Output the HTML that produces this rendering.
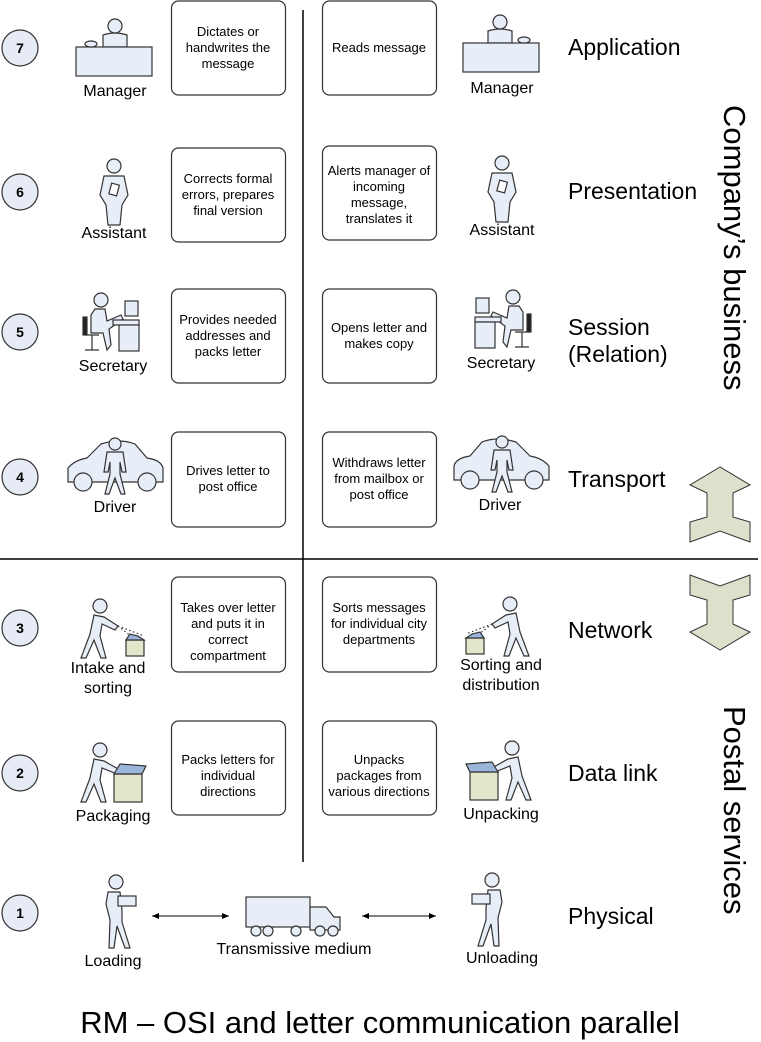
<!DOCTYPE html>
<html><head><meta charset="utf-8"><style>
html,body{margin:0;padding:0;background:#fff}
svg{display:block}
text{font-family:"Liberation Sans",Arial,sans-serif;fill:#000}
</style></head><body>
<svg width="761" height="1042" viewBox="0 0 761 1042" xmlns="http://www.w3.org/2000/svg">
<defs>
<marker id="ah" markerWidth="8" markerHeight="8" refX="7" refY="4" orient="auto-start-reverse"><path d="M0,1 L7,4 L0,7 Z" fill="#000"/></marker>
<g id="manager" stroke="#333" stroke-width="1.2" fill="#e8eef8">
 <path d="M-11,0 V-12 Q1,-16 13,-12 V0 Z"/>
 <circle cx="1" cy="-21" r="7"/>
 <rect x="-38" y="0" width="76" height="29"/>
 <ellipse cx="-23" cy="-3" rx="6" ry="3"/>
</g>
<g id="assistant" stroke="#333" stroke-width="1.2" fill="#e8eef8">
 <circle cx="0" cy="-24" r="7"/>
 <path d="M-10,-14 L10,-14 L14,5 L8,15 L6,35 L-6,35 L-8,15 L-14,5 Z"/>
 <rect x="-4" y="-6" width="8" height="11" transform="rotate(15)" fill="#fff"/>
</g>
<g id="secretary" stroke="#333" stroke-width="1.2" fill="#e8eef8">
 <circle cx="-12" cy="-25" r="7"/>
 <path d="M-18,-16 L-8,-16 L-6,-4 L8,-10 L10,-6 L-4,4 L-2,20 L-6,25 L-10,8 L-22,8 L-22,-10 Z"/>
 <rect x="-30" y="-8" width="4" height="18" fill="#222"/>
 <path d="M-28,10 H-14 M-21,10 V25 M-28,25 H-14" fill="none"/>
 <rect x="0" y="-5" width="26" height="5"/>
 <rect x="6" y="0" width="20" height="26"/>
 <rect x="12" y="-24" width="13" height="15"/>
</g>
<g id="driver" stroke="#333" stroke-width="1.2" fill="#e8eef8">
 <path d="M-47,22 L-47,8 Q-40,0 -28,-2 L-14,-16 Q5,-22 20,-16 L32,-2 Q46,0 48,8 L48,22 Z"/>
 <circle cx="-32" cy="22" r="9"/>
 <circle cx="32" cy="22" r="9"/>
 <circle cx="0" cy="-16" r="6"/>
 <path d="M-8,-8 L8,-8 L11,12 L7,12 L5,2 L5,14 L10,34 L6,34 L0,18 L-6,34 L-10,34 L-5,14 L-5,2 L-7,12 L-11,12 Z"/>
</g>
<g id="intake" stroke="#333" stroke-width="1.2" fill="#e8eef8">
 <circle cx="0" cy="-22" r="7"/>
 <path d="M-6,-13 L4,-11 L18,-2 L15,2 L2,-4 L0,8 L6,30 L1,30 L-6,12 L-14,30 L-19,30 L-10,6 Z"/>
 <path d="M18,-2 L36,12 M18,-2 L44,8" stroke-dasharray="1.5,2.5" fill="none"/>
 <rect x="26" y="12" width="18" height="16" fill="#e4e6cc"/>
 <path d="M26,12 L30,6 L38,8 L44,12 Z" fill="#9bb4d9"/>
</g>
<g id="packaging" stroke="#333" stroke-width="1.2" fill="#e8eef8">
 <circle cx="0" cy="-20" r="7"/>
 <path d="M-6,-11 L4,-9 L20,0 L17,4 L2,-2 L0,10 L6,32 L1,32 L-6,14 L-14,32 L-19,32 L-10,8 Z"/>
 <rect x="14" y="4" width="28" height="28" fill="#e4e6cc"/>
 <path d="M14,4 L20,-6 L46,-4 L42,4 Z" fill="#9bb4d9"/>
</g>
<g id="loading" stroke="#333" stroke-width="1.2" fill="#e8eef8">
 <circle cx="8" cy="-28" r="7"/>
 <path d="M0,-18 L12,-18 L14,0 L14,12 L22,38 L17,38 L9,16 L6,38 L1,38 L2,10 L-2,-6 Z"/>
 <rect x="10" y="-14" width="18" height="10" fill="#e8eef8"/>
</g>
<g id="bigarrow" stroke="#333" stroke-width="1" fill="#dde0cb">
 <path d="M0,0 L-30,18 L-13,26 L-13,50 L-30,55 L-30,75 L0,64 L30,75 L30,55 L13,50 L13,26 L30,18 Z"/>
</g>
</defs>

<line x1="303" y1="10" x2="303" y2="862" stroke="#000" stroke-width="1.5"/>
<line x1="0" y1="559" x2="758" y2="559" stroke="#000" stroke-width="1.5"/>

<g stroke="#333" stroke-width="1.2" fill="#e6ebf5">
<circle cx="20" cy="48" r="18"/><circle cx="20" cy="192" r="18"/><circle cx="20" cy="332" r="18"/><circle cx="20" cy="477" r="18"/><circle cx="20" cy="628" r="18"/><circle cx="20" cy="773" r="18"/><circle cx="20" cy="913" r="18"/>
</g>
<g font-size="14" font-weight="bold" text-anchor="middle">
<text x="20" y="53">7</text><text x="20" y="197">6</text><text x="20" y="337">5</text><text x="20" y="482">4</text><text x="20" y="633">3</text><text x="20" y="778">2</text><text x="20" y="918">1</text>
</g>

<g stroke="#333" stroke-width="1.2" fill="#fff">
<rect x="171.5" y="1" width="114" height="94" rx="7"/>
<rect x="171.5" y="148" width="114" height="94" rx="7"/>
<rect x="171.5" y="289" width="114" height="94" rx="7"/>
<rect x="171.5" y="432" width="114" height="95" rx="7"/>
<rect x="171.5" y="577" width="114" height="95" rx="7"/>
<rect x="171.5" y="721" width="114" height="94" rx="7"/>
<rect x="322.5" y="1" width="114" height="94" rx="7"/>
<rect x="322.5" y="146" width="114" height="94" rx="7"/>
<rect x="322.5" y="289" width="114" height="94" rx="7"/>
<rect x="322.5" y="432" width="114" height="95" rx="7"/>
<rect x="322.5" y="577" width="114" height="95" rx="7"/>
<rect x="322.5" y="721" width="114" height="94" rx="7"/>
</g>
<g font-size="13" text-anchor="middle" fill="#000">
<text x="228" y="36">Dictates or</text><text x="228" y="52">handwrites the</text><text x="228" y="68">message</text>
<text x="228" y="183">Corrects formal</text><text x="228" y="199">errors, prepares</text><text x="228" y="215">final version</text>
<text x="228" y="324">Provides needed</text><text x="228" y="340">addresses and</text><text x="228" y="356">packs letter</text>
<text x="228" y="475">Drives letter to</text><text x="228" y="491">post office</text>
<text x="228" y="612">Takes over letter</text><text x="228" y="628">and puts it in</text><text x="228" y="644">correct</text><text x="228" y="660">compartment</text>
<text x="228" y="764">Packs letters for</text><text x="228" y="780">individual</text><text x="228" y="796">directions</text>
<text x="379" y="52">Reads message</text>
<text x="379" y="175">Alerts manager of</text><text x="379" y="191">incoming</text><text x="379" y="207">message,</text><text x="379" y="223">translates it</text>
<text x="379" y="332">Opens letter and</text><text x="379" y="348">makes copy</text>
<text x="379" y="467">Withdraws letter</text><text x="379" y="483">from mailbox or</text><text x="379" y="499">post office</text>
<text x="379" y="612">Sorts messages</text><text x="379" y="628">for individual city</text><text x="379" y="644">departments</text>
<text x="379" y="764">Unpacks</text><text x="379" y="780">packages from</text><text x="379" y="796">various directions</text>
</g>

<use href="#manager" transform="translate(114,47)"/>
<use href="#manager" transform="translate(501,43) scale(-1,1)"/>
<use href="#assistant" transform="translate(114,190)"/>
<use href="#assistant" transform="translate(502,187)"/>
<use href="#secretary" transform="translate(113,325)"/>
<use href="#secretary" transform="translate(501,322) scale(-1,1)"/>
<use href="#driver" transform="translate(115,460)"/>
<use href="#driver" transform="translate(502,458) scale(-1,1)"/>
<use href="#intake" transform="translate(100,628)"/>
<use href="#intake" transform="translate(510,626) scale(-1,1)"/>
<use href="#packaging" transform="translate(100,770)"/>
<use href="#packaging" transform="translate(512,768) scale(-1,1)"/>
<use href="#loading" transform="translate(108,910)"/>
<use href="#loading" transform="translate(500,908) scale(-1,1)"/>
<g stroke="#333" stroke-width="1.2" fill="#e8eef8">
<rect x="246" y="897" width="64" height="30"/>
<path d="M310,907 L326,907 L334,917 L340,917 L340,930 L310,930 Z"/>
<circle cx="256" cy="931" r="5"/><circle cx="268" cy="931" r="5"/><circle cx="296" cy="931" r="5"/><circle cx="320" cy="931" r="5"/><circle cx="333" cy="931" r="5"/>
</g>
<line x1="152" y1="916" x2="229" y2="916" stroke="#000" stroke-width="1" marker-start="url(#ah)" marker-end="url(#ah)"/>
<line x1="362" y1="916" x2="436" y2="916" stroke="#000" stroke-width="1" marker-start="url(#ah)" marker-end="url(#ah)"/>

<g font-size="16" text-anchor="middle">
<text x="115" y="96">Manager</text><text x="502" y="93">Manager</text>
<text x="114" y="238">Assistant</text><text x="502" y="235">Assistant</text>
<text x="113" y="371">Secretary</text><text x="501" y="368">Secretary</text>
<text x="115" y="512">Driver</text><text x="500" y="510">Driver</text>
<text x="108" y="673">Intake and</text><text x="108" y="693">sorting</text>
<text x="501" y="670">Sorting and</text><text x="501" y="690">distribution</text>
<text x="113" y="821">Packaging</text><text x="501" y="819">Unpacking</text>
<text x="113" y="966">Loading</text><text x="294" y="954">Transmissive medium</text><text x="502" y="963">Unloading</text>
</g>

<g font-size="23">
<text x="568" y="55">Application</text>
<text x="568" y="199">Presentation</text>
<text x="568" y="335">Session</text><text x="568" y="362">(Relation)</text>
<text x="568" y="487">Transport</text>
<text x="568" y="638">Network</text>
<text x="568" y="781">Data link</text>
<text x="568" y="924">Physical</text>
</g>
<text font-size="31" transform="translate(724,105) rotate(90)">Company’s business</text>
<text font-size="31" transform="translate(724,706) rotate(90)">Postal services</text>

<use href="#bigarrow" transform="translate(720,467)"/>
<use href="#bigarrow" transform="translate(720,650) scale(1,-1)"/>

<text x="380" y="1033" font-size="31" text-anchor="middle">RM – OSI and letter communication parallel</text>
</svg>
</body></html>
